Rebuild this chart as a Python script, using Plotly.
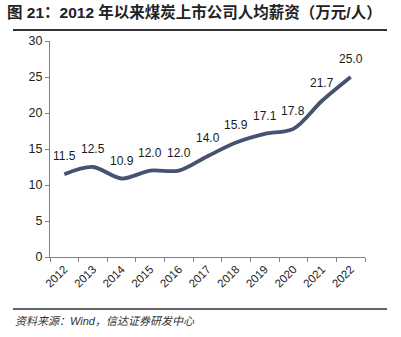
import plotly.graph_objects as go

years = ["2012", "2013", "2014", "2015", "2016", "2017", "2018", "2019", "2020", "2021", "2022"]
salary = [11.5, 12.5, 10.9, 12.0, 12.0, 14.0, 15.9, 17.1, 17.8, 21.7, 25.0]
labels = ["11.5", "12.5", "10.9", "12.0", "12.0", "14.0", "15.9", "17.1", "17.8", "21.7", "25.0"]
y_ticks = [0, 5, 10, 15, 20, 25, 30]

title_text = "图 21：2012 年以来煤炭上市公司人均薪资（万元/人）"
source_text = "资料来源：Wind，信达证券研发中心"

W, H = 401, 337
L, R, T, B = 50, 36, 41, 80
pw, ph = W - L - R, H - T - B

def px(x):
    return (x - L) / pw

def py(y):
    return (H - B - y) / ph

fig = go.Figure()
fig.add_trace(go.Scatter(
    x=years, y=salary, mode="lines",
    line=dict(color="#46526F", width=3.8, shape="spline", smoothing=0.9),
    hoverinfo="skip", showlegend=False,
))

annotations = []
for i, (v, t) in enumerate(zip(salary, labels)):
    annotations.append(dict(x=i, y=v, xref="x", yref="y", text=t, showarrow=False,
                            yshift=18, font=dict(size=12, color="#1a1a1a",
                                                 family="Liberation Sans, Arial, sans-serif")))

annotations.append(dict(x=px(5), y=py(12), xref="paper", yref="paper", text="<b>" + title_text + "</b>",
                        showarrow=False, xanchor="left", yanchor="middle",
                        font=dict(size=15.5, color="#222222",
                                  family="Liberation Sans, Noto Sans CJK SC, sans-serif")))
annotations.append(dict(x=px(13), y=py(321), xref="paper", yref="paper", text="<i>" + source_text + "</i>",
                        showarrow=False, xanchor="left", yanchor="middle",
                        font=dict(size=11, color="#333333",
                                  family="Liberation Sans, Noto Sans CJK SC, sans-serif")))

shapes = [
    dict(type="line", xref="paper", yref="paper", x0=px(13), x1=px(387), y0=py(30), y1=py(30),
         line=dict(color="#333333", width=2)),
    dict(type="line", xref="paper", yref="paper", x0=px(13), x1=px(387), y0=py(309), y1=py(309),
         line=dict(color="#333333", width=1.5)),
]

fig.update_layout(
    width=W, height=H,
    margin=dict(l=L, r=R, t=T, b=B),
    paper_bgcolor="white", plot_bgcolor="white",
    annotations=annotations, shapes=shapes,
    font=dict(family="Liberation Sans, Arial, sans-serif", color="#222222"),
    xaxis=dict(type="category", range=[-0.5, 10.5], showline=True, linecolor="#7f7f7f", linewidth=1,
               ticks="outside", tickson="boundaries", ticklen=4, tickcolor="#7f7f7f",
               tickangle=-45, tickfont=dict(size=11.5, color="#222222"), showgrid=False, zeroline=False,
               fixedrange=True),
    yaxis=dict(range=[0, 30], tickvals=y_ticks, showline=True, linecolor="#7f7f7f", linewidth=1,
               ticks="outside", ticklen=4, tickcolor="#7f7f7f", tickfont=dict(size=12.5, color="#222222"),
               showgrid=False, zeroline=False, fixedrange=True),
)

fig.write_html("out.html", config={"displayModeBar": False})
